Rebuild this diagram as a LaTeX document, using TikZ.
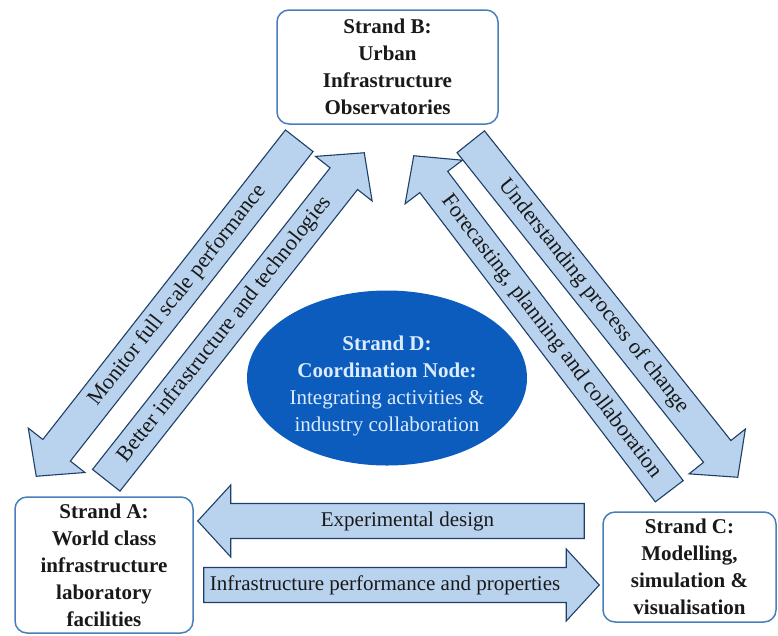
\documentclass[tikz,border=0pt]{standalone}
\usepackage{fontspec}
\setmainfont{Liberation Serif}
\usetikzlibrary{calc,shapes.geometric}
\definecolor{boxline}{RGB}{74,126,187}
\definecolor{arrowfill}{RGB}{185,211,238}
\definecolor{arrowline}{RGB}{31,63,102}
\definecolor{corefill}{RGB}{12,92,190}
\definecolor{coretext}{RGB}{220,236,255}
\tikzset{
  strand/.style={draw=boxline,line width=1.5pt,rounded corners=12pt,fill=white,
    align=center,inner sep=0pt,text=black!90,font=\bfseries\fontsize{21}{27}\selectfont},
  core/.style={ellipse,fill=corefill,inner sep=0pt},
  coretxt/.style={text=coretext,align=center,inner sep=0pt,font=\fontsize{21}{27}\selectfont},
  flow/.style={draw=arrowline,line width=1.1pt,fill=arrowfill},
  flowlabel/.style={inner sep=0pt,text=black!90,font=\fontsize{21}{24}\selectfont},
  slantlabel/.style={flowlabel,font=\fontsize{22}{24}\selectfont}
}
\newcommand{\flowarrow}[3]{%
  \coordinate (#1-h) at ($(#2)!33pt!(#1)$);
  \draw[flow] ($(#1)!17.5pt!90:(#2)$) -- ($(#1-h)!17.5pt!90:(#2)$)
    -- ($(#1-h)!36pt!90:(#2)$) -- (#2) -- ($(#1-h)!36pt!-90:(#2)$)
    -- ($(#1-h)!17.5pt!-90:(#2)$) -- ($(#1)!17.5pt!-90:(#2)$) -- cycle;
  \path (#1) -- (#1-h) node[midway,sloped,#3]}

\begin{document}
\begin{tikzpicture}[x=1pt,y=-1pt]
\useasboundingbox (0,0) rectangle (778,635);
\node (B) at (387.5,67) [strand,minimum width=221pt,minimum height=114pt]
  {Strand B:\\Urban\\Infrastructure\\Observatories};
\node (A) at (104,565) [strand,minimum width=178pt,minimum height=136pt]
  {Strand A:\\World class\\infrastructure\\laboratory\\facilities};
\node (C) at (689.5,567) [strand,minimum width=173pt,minimum height=110pt]
  {Strand C:\\Modelling,\\simulation \&\\visualisation};
\node (D) at (387,378) [core,minimum width=280pt,minimum height=175pt] {};
\node (Dtext) at ($(D)+(0,8)$) [coretxt]
  {\textbf{Strand D:}\\\textbf{Coordination Node:}\\Integrating activities \&\\industry collaboration};

\coordinate (monitor) at ($(B.south west)+(23,16)$);
\coordinate (monitor-e) at ($(A.north west)+(22,-20)$);
\coordinate (better) at ($(A.north west)+(92,-16)$);
\coordinate (better-e) at ($(B.south west)+(88,28)$);
\coordinate (forecast) at ($(C.north west)+(67,-20)$);
\coordinate (forecast-e) at ($(B.south east)+(-85,31)$);
\coordinate (change) at ($(B.south east)+(-28,17)$);
\coordinate (change-e) at ($(C.north east)+(-39,-34)$);
\coordinate (design) at ($(C.west)+(-18,-46)$);
\coordinate (design-e) at ($(A.east)+(4,-44)$);
\coordinate (perf) at ($(A.east)+(10,20)$);
\coordinate (perf-e) at ($(C.west)+(-3,18)$);

\flowarrow{monitor}{monitor-e}{slantlabel} {Monitor full scale performance};
\flowarrow{better}{better-e}{slantlabel} {Better infrastructure and technologies};
\flowarrow{forecast}{forecast-e}{slantlabel} {Forecasting, planning and collaboration};
\flowarrow{change}{change-e}{slantlabel} {Understanding process of change};
\flowarrow{design}{design-e}{flowlabel} {Experimental design};
\flowarrow{perf}{perf-e}{flowlabel} {Infrastructure performance and properties};
\end{tikzpicture}
\end{document}
